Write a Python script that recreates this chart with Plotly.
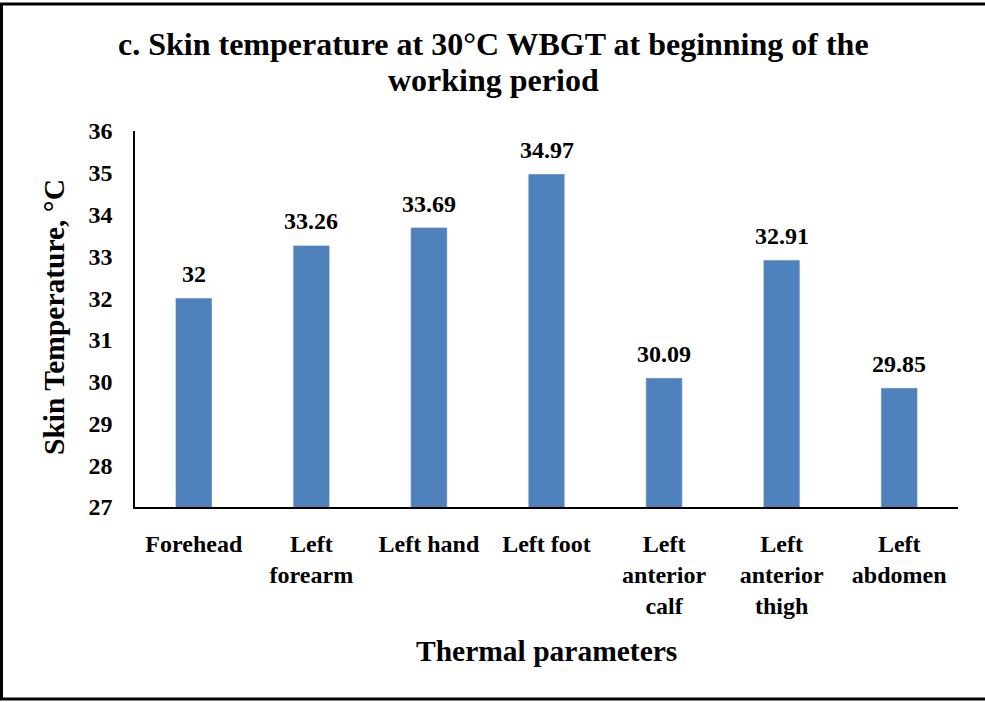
import plotly.graph_objects as go

categories = ["Forehead", "Left<br>forearm", "Left hand", "Left foot",
              "Left<br>anterior<br>calf", "Left<br>anterior<br>thigh", "Left<br>abdomen"]
values = [32, 33.26, 33.69, 34.97, 30.09, 32.91, 29.85]
labels = ["32", "33.26", "33.69", "34.97", "30.09", "32.91", "29.85"]
tick_vals = [27, 28, 29, 30, 31, 32, 33, 34, 35, 36]
title_lines = ["c. Skin temperature at 30°C WBGT at beginning of the", "working period"]

W, H = 985, 702
L, R, T, B = 135, 27, 131, 195
pw, ph = W - L - R, H - T - B

def px_x(x):
    return (x - L) / pw

def px_y(y):
    return (H - B - y) / ph

FONT = "Liberation Serif"

fig = go.Figure(go.Bar(
    x=categories, y=values,
    marker=dict(color="#4F81BD"), cliponaxis=False, hoverinfo="skip",
))

annotations = []
for c, v, s in zip(categories, values, labels):
    annotations.append(dict(x=c, y=v, xref="x", yref="y", text="<b>" + s + "</b>",
                            showarrow=False, yanchor="bottom", xanchor="center", yshift=9,
                            font=dict(family=FONT, size=24, color="black")))

annotations += [
    dict(text="<b>" + title_lines[0] + "</b>", xref="paper", yref="paper",
         x=px_x(493), y=px_y(44), xanchor="center", yanchor="middle", showarrow=False,
         font=dict(family=FONT, size=32, color="black")),
    dict(text="<b>" + title_lines[1] + "</b>", xref="paper", yref="paper",
         x=px_x(493), y=px_y(80), xanchor="center", yanchor="middle", showarrow=False,
         font=dict(family=FONT, size=32, color="black")),
    dict(text="<b>Skin Temperature, °C</b>", textangle=-90, xref="paper", yref="paper",
         x=px_x(54), y=px_y(317), xanchor="center", yanchor="middle", showarrow=False,
         font=dict(family=FONT, size=29.5, color="black")),
    dict(text="<b>Thermal parameters</b>", xref="paper", yref="paper",
         x=px_x(546), y=px_y(651), xanchor="center", yanchor="middle", showarrow=False,
         font=dict(family=FONT, size=29.5, color="black")),
]

fig.update_layout(
    width=W, height=H, margin=dict(l=L, r=R, t=T, b=B),
    paper_bgcolor="white", plot_bgcolor="white",
    bargap=0.69, showlegend=False,
    font=dict(family=FONT, color="black"),
    xaxis=dict(showline=True, linecolor="black", linewidth=1.5, ticks="",
               tickvals=categories, ticktext=["<b>" + c + "</b>" for c in categories],
               tickfont=dict(family=FONT, size=24, color="black"),
               ticklabelstandoff=14),
    yaxis=dict(range=[27, 36], tickvals=tick_vals,
               ticktext=["<b>%d</b>" % v for v in tick_vals],
               showline=True, linecolor="black",
               linewidth=1.5, showgrid=False, ticks="", zeroline=False,
               tickfont=dict(family=FONT, size=24, color="black"),
               ticklabelstandoff=16),
    annotations=annotations,
    shapes=[dict(type="rect", xref="paper", yref="paper",
                 x0=px_x(1.5), x1=px_x(995), y0=px_y(699), y1=px_y(4),
                 line=dict(color="black", width=3))],
)

fig.write_html("out.html", config={"displayModeBar": False},
               post_script="document.body.style.margin='0';")
